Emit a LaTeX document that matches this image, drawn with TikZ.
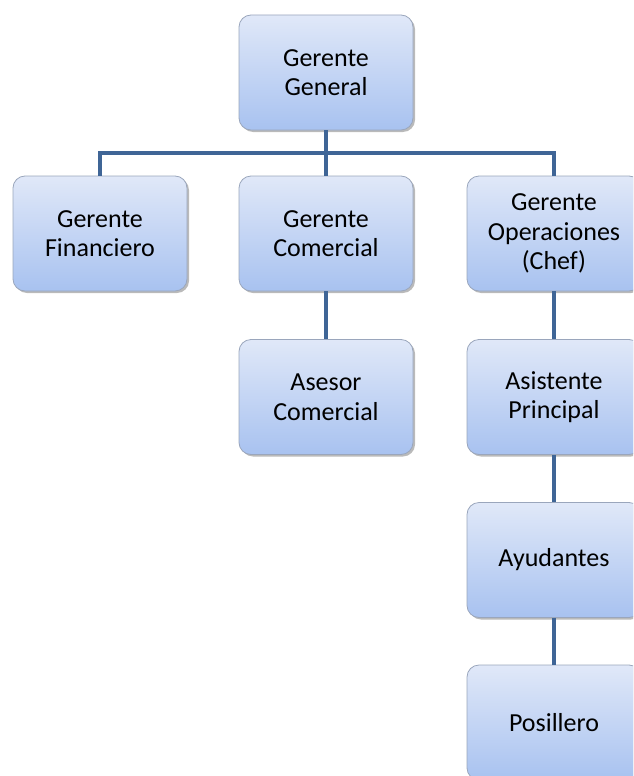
\documentclass[tikz,border=0pt]{standalone}
\usepackage{fontspec}
\setmainfont{Carlito}
\usetikzlibrary{shadows}
\definecolor{boxtop}{HTML}{E0E8F8}
\definecolor{boxbot}{HTML}{A8C2F0}
\definecolor{boxedge}{HTML}{9AA6BC}
\definecolor{linkc}{HTML}{3F6596}
\tikzset{
  orgbox/.style={draw=boxedge, line width=0.8pt, rounded corners=12pt,
    top color=boxtop, bottom color=boxbot,
    minimum width=174pt, minimum height=115pt, inner sep=2pt,
    align=center, font=\fontsize{26}{29.5}\selectfont,
    drop shadow={shadow xshift=2pt, shadow yshift=-2pt, opacity=0.45, fill=black!60}},
  link/.style={draw=linkc, line width=4pt}
}
\begin{document}
\begin{tikzpicture}[x=1pt,y=-1pt]
\useasboundingbox (0,0) rectangle (633,776);
\clip (0,0) rectangle (633,776);
\node[orgbox] (gg) at (326,72.5) {Gerente\\General};
\node[orgbox] (gf) at (100,233.5) {Gerente\\Financiero};
\node[orgbox] (gc) at (326,233.5) {Gerente\\Comercial};
\node[orgbox] (go) at (554,233.5) {Gerente\\Operaciones\\(Chef)};
\node[orgbox] (ac) at (326,397) {Asesor\\Comercial};
\node[orgbox] (ap) at (554,397) {Asistente\\Principal};
\node[orgbox] (ay) at (554,560) {Ayudantes};
\node[orgbox] (po) at (554,722.5) {Posillero};
\coordinate (bar) at (326,153);
\draw[link] (gg.south) -- (bar);
\draw[link] (gf.north) |- (bar) -| (go.north);
\draw[link] (bar) -- (gc.north);
\draw[link] (gc.south) -- (ac.north);
\draw[link] (go.south) -- (ap.north);
\draw[link] (ap.south) -- (ay.north);
\draw[link] (ay.south) -- (po.north);
\end{tikzpicture}
\end{document}
